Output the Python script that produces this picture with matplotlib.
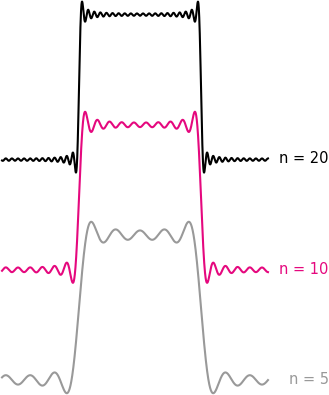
import numpy as np
import matplotlib.pyplot as plt

# Fourier partial sums of a rectangular pulse, stacked from bottom to top
terms = [5, 10, 20]
labels = ['n = 5', 'n = 10', 'n = 20']
colors = ['#999999', '#e5087e', '#000000']
offsets = [0.0, 0.76, 1.52]

x = np.linspace(-1.131 * np.pi, 1.049 * np.pi, 3000)


def partial_sum(x, n):
    s = np.full_like(x, 0.5)
    for j in range(n):
        k = 2 * j + 1
        s += (2 / np.pi) * (-1) ** j * np.cos(k * x) / k
    return s


fig = plt.figure(figsize=(3.29, 3.95), dpi=100)
ax = fig.add_axes([0, 0, 1, 1])

for n, lab, c, off in zip(terms, labels, colors, offsets):
    ax.plot(x, partial_sum(x, n) + off, color=c, lw=1.5)
    ax.text(1.548 * np.pi, off + 0.005, lab, color=c, fontsize=10.5,
            ha='right', va='center', family='DejaVu Sans')

# pulse width (pi) is about 122 px, one unit of height about 145 px
ax.set_xlim(-140 / 122 * np.pi, 189 / 122 * np.pi)
ax.set_ylim(-15 / 145, 380 / 145)
ax.axis('off')

fig.savefig('out.png', dpi=100)
